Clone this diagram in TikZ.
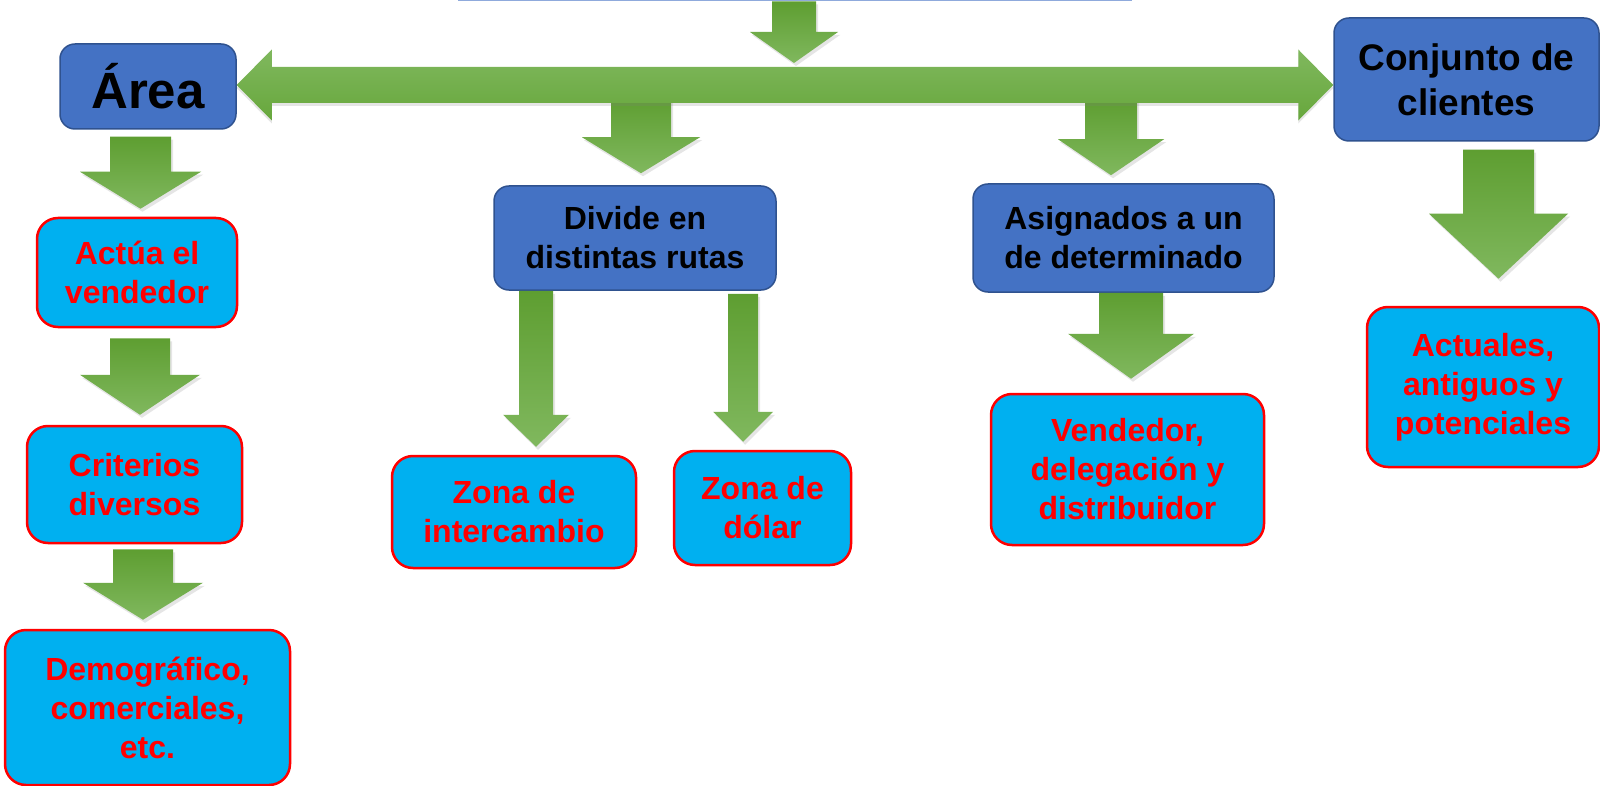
\documentclass[tikz,border=0pt]{standalone}
\usepackage{fontspec}
\setmainfont{Liberation Sans}
\definecolor{AzulCaja}{HTML}{4472C4}
\definecolor{AzulBorde}{HTML}{2F528F}
\definecolor{Celeste}{HTML}{00B0F0}
\definecolor{Rojo}{HTML}{FF0000}
\definecolor{LineaTema}{HTML}{8FAADC}
\definecolor{VerdeOscuro}{HTML}{5E9E31}
\definecolor{VerdeClaro}{HTML}{80B85E}
\definecolor{VerdeBarra}{HTML}{67A73C}
\usetikzlibrary{positioning, calc, shadows}

\begin{document}
\begin{tikzpicture}[x=1pt, y=-1pt, node distance=200pt]
        \tikzstyle{caja} = [rectangle, rounded corners=15pt, minimum width=280pt, minimum height=105pt, inner sep=0pt, align=center, draw=AzulBorde, line width=1.5pt, fill=AzulCaja, font=\fontsize{32}{39}\selectfont\bfseries]
        \tikzstyle{hoja} = [rectangle, rounded corners=21pt, minimum width=230pt, minimum height=115pt, inner sep=0pt, align=center, draw=Rojo, line width=2.5pt, fill=Celeste, text=Rojo, font=\fontsize{32}{39}\selectfont\bfseries]
        \tikzset{
          flecha/.style n args={3}{top color=VerdeOscuro, bottom color=VerdeClaro, draw=none,
            drop shadow={opacity=0.2, shadow xshift=2pt, shadow yshift=-3pt},
            to path={let \p1=(\tikztostart), \p2=(\tikztotarget) in
              (\x2-#1,\y1) -- (\x2-#1,\y2+#3) -- (\x2-#2,\y2+#3) -- (\x2,\y2)
              -- (\x2+#2,\y2+#3) -- (\x2+#1,\y2+#3) -- (\x2+#1,\y1) -- cycle}},
          eje/.style n args={3}{top color=VerdeClaro, bottom color=VerdeBarra, draw=none,
            drop shadow={opacity=0.2, shadow xshift=0pt, shadow yshift=-3pt},
            to path={let \p1=(\tikztostart), \p2=(\tikztotarget) in
              (\x1,\y1) -- (\x1+#3,\y1+#2) -- (\x1+#3,\y1+#1) -- (\x2-#3,\y1+#1)
              -- (\x2-#3,\y1+#2) -- (\x2,\y1) -- (\x2-#3,\y1-#2) -- (\x2-#3,\y1-#1)
              -- (\x1+#3,\y1-#1) -- (\x1+#3,\y1-#2) -- cycle}}
        }
        \useasboundingbox [fill=white] (0,0) rectangle (1600,786);

        % Nodes
        \node (tema) [rectangle, minimum width=672pt, minimum height=60pt, draw=LineaTema, line width=2pt, anchor=south] at (795,1.5) {};
        \node (area) [caja, minimum width=176pt, minimum height=85pt, font=\fontsize{51}{60}\selectfont\bfseries] at (148,86.5) {Área};
        \node (actua) [hoja, below of=area, node distance=186pt, xshift=-11pt, minimum width=200pt, minimum height=109pt] {Actúa el\\vendedor};
        \node (criterios) [hoja, below of=actua, node distance=212pt, xshift=-2.5pt, minimum width=215pt, minimum height=117pt] {Criterios\\diversos};
        \node (demografico) [hoja, below of=criterios, node distance=223pt, xshift=13pt, minimum width=285pt, minimum height=155pt] {Demográfico,\\comerciales,\\etc.};
        \node (divide) [caja, minimum width=282pt, minimum height=104pt] at (635,238) {Divide en\\distintas rutas};
        \node (zonaint) [hoja, below of=divide, node distance=274pt, xshift=-121pt, minimum width=244pt, minimum height=112pt] {Zona de\\intercambio};
        \node (zonadol) [hoja, below of=divide, node distance=270pt, xshift=127.5pt, minimum width=177pt, minimum height=114pt] {Zona de\\dólar};
        \node (asignados) [caja, right of=divide, node distance=488.5pt, minimum width=301pt, minimum height=108pt] {Asignados a un\\de determinado};
        \node (vendedor) [hoja, below of=asignados, node distance=231.5pt, xshift=4pt, minimum width=273pt, minimum height=151pt] {Vendedor,\\delegación y\\distribuidor};
        \node (conjunto) [caja, minimum width=265pt, minimum height=123pt, font=\fontsize{37}{45}\selectfont\bfseries] at (1466.5,79.5) {Conjunto de\\clientes};
        \node (actuales) [hoja, below of=conjunto, node distance=307.5pt, xshift=16.5pt, minimum width=232pt, minimum height=160pt] {Actuales,\\antiguos y\\potenciales};

        % Free ends on the bar
        \coordinate (nudo) at (794,63);
        \coordinate (bajada1) at (641,98);
        \coordinate (bajada2) at (1111,100);

        % Arrows from the bar
        \path [flecha={22pt}{44pt}{31pt}] ([xshift=-1pt]tema.south) to (nudo);
        \path [flecha={30pt}{59pt}{36pt}] (bajada1) to ([xshift=6pt, yshift=12pt]divide.north);
        \path [flecha={26pt}{53pt}{36pt}] (bajada2) to ([xshift=-12.5pt, yshift=8pt]asignados.north);
        \path [eje={18pt}{35.5pt}{35pt}] ([yshift=1.5pt]area.east) to (conjunto.west);

        % Arrows down the columns
        \path [flecha={30.5pt}{60.5pt}{37pt}] ([yshift=-7pt]area.south) to ([xshift=3.5pt, yshift=8pt]actua.north);
        \path [flecha={30pt}{60pt}{40pt}] ([yshift=-10pt]actua.south) to ([xshift=5.5pt, yshift=10pt]criterios.north);
        \path [flecha={30pt}{60pt}{37pt}] ([yshift=-5pt]criterios.south) to ([xshift=-4.5pt, yshift=9pt]demografico.north);
        \path [flecha={17pt}{33pt}{32pt}] (divide.south) to ([xshift=22pt, yshift=8pt]zonaint.north);
        \path [flecha={15pt}{30pt}{30pt}] ([yshift=-3pt]divide.south) to ([xshift=-19.5pt, yshift=8pt]zonadol.north);
        \path [flecha={32pt}{63pt}{45pt}] (asignados.south) to ([xshift=3.5pt, yshift=14pt]vendedor.north);
        \path [flecha={35.5pt}{69.5pt}{65pt}] ([yshift=-8pt]conjunto.south) to ([xshift=15.5pt, yshift=27pt]actuales.north);
    \end{tikzpicture}
\end{document}
